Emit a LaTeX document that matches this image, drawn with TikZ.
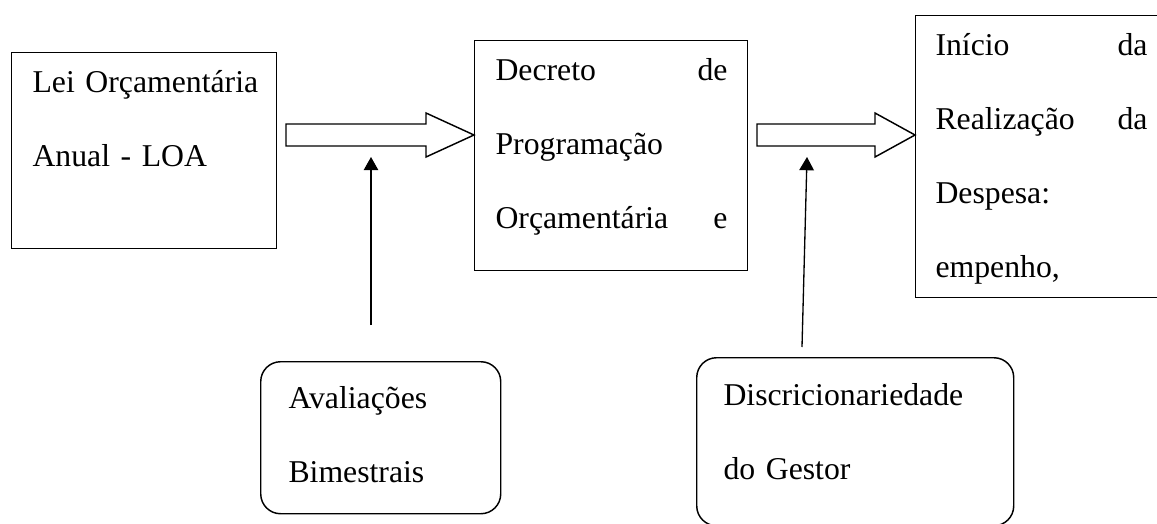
\documentclass[tikz,border=0pt]{standalone}
\usepackage{fontspec}
\setmainfont{Liberation Serif}
\usetikzlibrary{calc,positioning,arrows.meta}
\newcommand{\px}{0.378pt}
\newcommand{\blockarrow}[3]{
    \draw[outline] ($(#1)+(0,-11)$) -- ($(#2)+(-#3,-11)$) -- ++(0,-11) -- (#2)
        -- ($(#2)+(-#3,22)$) -- ++(0,-11) -- ($(#1)+(0,11)$) -- cycle;
}

\begin{document}
\begin{tikzpicture}[x=\px, y=-\px,
    box/.style={draw, line width=0.55pt, inner sep=0pt, anchor=north west},
    roundbox/.style={box, rounded corners=7.5pt},
    txt/.style={inner sep=0pt, align=left, anchor=base west, font=\fontsize{12}{28}\selectfont},
    outline/.style={line width=0.55pt, line join=miter},
    pointer/.style={line width=0.5pt, -{Triangle[length=5pt, width=5.5pt]}}]

    \useasboundingbox (0,0) rectangle (1157,523);

    %% Upper row
    % LOA
    \node[box, minimum width=265*\px, minimum height=196*\px] (loa) at (11,52) {};
    \node[txt, text width=240*\px] (loa-text) at ($(loa.north west)+(21,40)$)
        {Lei Orçamentária\\Anual - LOA};

    % Decreto
    \node[box, minimum width=273*\px, minimum height=230*\px] (decreto) at (474,40) {};
    \node[txt, text width=232*\px] (decreto-text) at ($(decreto.north west)+(21,40)$)
        {Decreto \hfill de\\Programação\\Orçamentária \hfill e};

    % Despesa
    \node[box, minimum width=260*\px, minimum height=282*\px] (despesa) at (915,15) {};
    \node[txt, text width=212*\px] (despesa-text) at ($(despesa.north west)+(20,40)$)
        {Início \hfill da\\Realização \hfill da\\Despesa:\\empenho,};

    % block arrows
    \coordinate (seta1-tail) at (286,135);
    \coordinate (seta1-tip) at (decreto.west |- seta1-tail);
    \blockarrow{seta1-tail}{seta1-tip}{48}
    \coordinate (seta2-tail) at (757,135);
    \coordinate (seta2-tip) at (despesa.west |- seta2-tail);
    \blockarrow{seta2-tail}{seta2-tip}{40}

    %% Lower row
    \node[roundbox, minimum width=240*\px, minimum height=152*\px] (aval) at (260,361) {};
    \node[txt, text width=200*\px] (aval-text) at ($(aval.north west)+(28,47)$)
        {Avaliações\\Bimestrais};

    \node[roundbox, minimum width=317*\px, minimum height=168*\px] (gestor) at (696,357) {};
    \node[txt, text width=280*\px] (gestor-text) at ($(gestor.north west)+(27,48)$)
        {Discricionariedade\\do Gestor};

    % pointers
    \coordinate (aval-from) at (371,325);
    \coordinate (aval-to) at (371,157);
    \draw[pointer] (aval-from) -- (aval-to);
    \coordinate (gestor-from) at (802,347);
    \coordinate (gestor-to) at (807,157);
    \draw[pointer] (gestor-from) -- (gestor-to);

\end{tikzpicture}
\end{document}
